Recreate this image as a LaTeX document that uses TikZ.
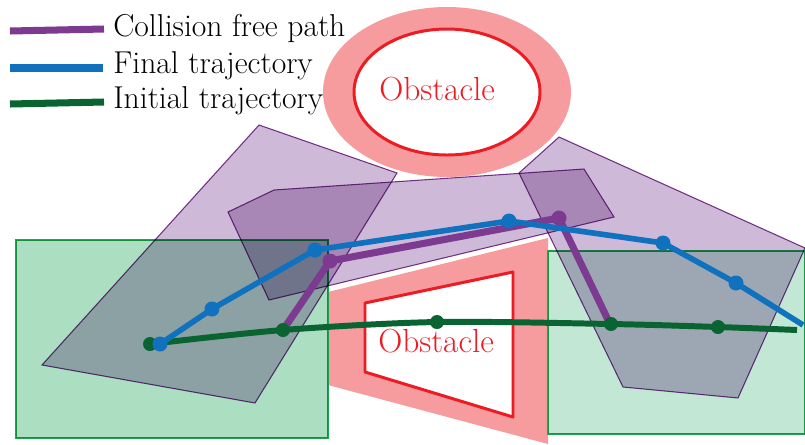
\documentclass[tikz,border=0pt]{standalone}
\usepackage{tikz}
\usetikzlibrary{arrows.meta,positioning,calc}

\definecolor{cpurple}{RGB}{125,58,145}
\definecolor{cblue}{RGB}{16,114,190}
\definecolor{cgreen}{RGB}{10,100,50}
\definecolor{cpink}{RGB}{246,155,158}
\definecolor{cred}{RGB}{237,28,36}
\definecolor{cpoly}{RGB}{207,185,216}
\definecolor{cboxA}{RGB}{172,222,193}
\definecolor{cboxB}{RGB}{194,231,212}
\definecolor{cboxline}{RGB}{30,165,80}

\begin{document}
\begin{tikzpicture}[x=0.02cm,y=-0.02cm,line join=round]
\tikzstyle{poly}=[draw=cpurple,fill=cpoly,line width=0.6pt]
\tikzstyle{box}=[draw=cboxline,line width=0.9pt]
\tikzstyle{obs}=[draw=cred,fill=white,line width=1.7pt]
\tikzstyle{obstxt}=[text=cred,font=\fontsize{19}{22}\selectfont,inner sep=0pt,anchor=base west]
\tikzstyle{legtxt}=[font=\fontsize{18}{21}\selectfont,inner sep=0pt,anchor=base west]
\tikzstyle{leg}=[line width=4pt]
\tikzstyle{dot}=[circle,inner sep=0pt,minimum size=0.3cm]
\useasboundingbox (0,0) rectangle (805,444);

\fill[cpink] (447,92) ellipse [x radius=124, y radius=85];
\draw[obs] (447,92) ellipse [x radius=93, y radius=63];
\node[obstxt] (obsTop) at (379,100) {Obstacle};

\fill[cpink] (328,292) -- (548,238) -- (548,444) -- (328,385) -- cycle;
\draw[obs] (365,303) -- (513,272) -- (513,417) -- (365,372) -- cycle;
\node[obstxt] (obsLow) at (378,352) {Obstacle};

\begin{scope}[blend group=multiply]
\draw[poly] (259,125) -- (397,173) -- (255,403) -- (42,365) -- cycle;
\draw[box,fill=cboxA] (16,240) rectangle (328,438);
\draw[box,fill=cboxB] (548,251) rectangle (805,434);
\draw[poly] (228,212) -- (274,190) -- (584,169) -- (614,217) -- (269,300) -- cycle;
\draw[poly] (519,173) -- (559,137) -- (805,248) -- (738,398) -- (623,387) -- cycle;
\end{scope}

\node[dot,fill=cpurple] (p1) at (330,261) {};
\node[dot,fill=cpurple] (p2) at (559,218) {};
\coordinate (p0) at (283,330);
\coordinate (p3) at (610,324);
\draw[cpurple,line width=4pt] (p0) -- (p1.center) -- (p2.center) -- (p3);

\node[dot,fill=cgreen,minimum size=0.28cm] (i0) at (150,344) {};
\node[dot,fill=cgreen,minimum size=0.28cm] (i1) at (283,330) {};
\node[dot,fill=cgreen,minimum size=0.28cm] (i2) at (437,322) {};
\node[dot,fill=cgreen,minimum size=0.28cm] (i3) at (611,324) {};
\node[dot,fill=cgreen,minimum size=0.28cm] (i4) at (718,327) {};
\coordinate (i5) at (797,330);
\draw[cgreen,line width=3.4pt] plot[smooth,tension=0.5] coordinates {(i0.center) (i1.center) (i2.center) (i3.center) (i4.center) (i5)};

\node[dot,fill=cblue] (f0) at (160,344) {};
\node[dot,fill=cblue] (f1) at (212,309) {};
\node[dot,fill=cblue] (f2) at (315,250) {};
\node[dot,fill=cblue] (f3) at (509,221) {};
\node[dot,fill=cblue] (f4) at (663,243) {};
\node[dot,fill=cblue] (f5) at (736,283) {};
\coordinate (f6) at (803,325);
\draw[cblue,line width=3.2pt] (f0.center) -- (f1.center) -- (f2.center) -- (f3.center) -- (f4.center) -- (f5.center) -- (f6);

\coordinate (lp0) at (10,31);
\coordinate (lp1) at (104,29);
\coordinate (lb0) at (10,68);
\coordinate (lb1) at (103,68);
\coordinate (lg0) at (10,104);
\coordinate (lg1) at (104,102);
\draw[leg,cpurple] (lp0) -- (lp1);
\draw[leg,cblue] (lb0) -- (lb1);
\draw[leg,cgreen] (lg0) -- (lg1);
\node[legtxt] (lpText) at (113,36) {Collision free path};
\node[legtxt] (lbText) at (113,73) {Final trajectory};
\node[legtxt] (lgText) at (113,108) {Initial trajectory};
\end{tikzpicture}
\end{document}
